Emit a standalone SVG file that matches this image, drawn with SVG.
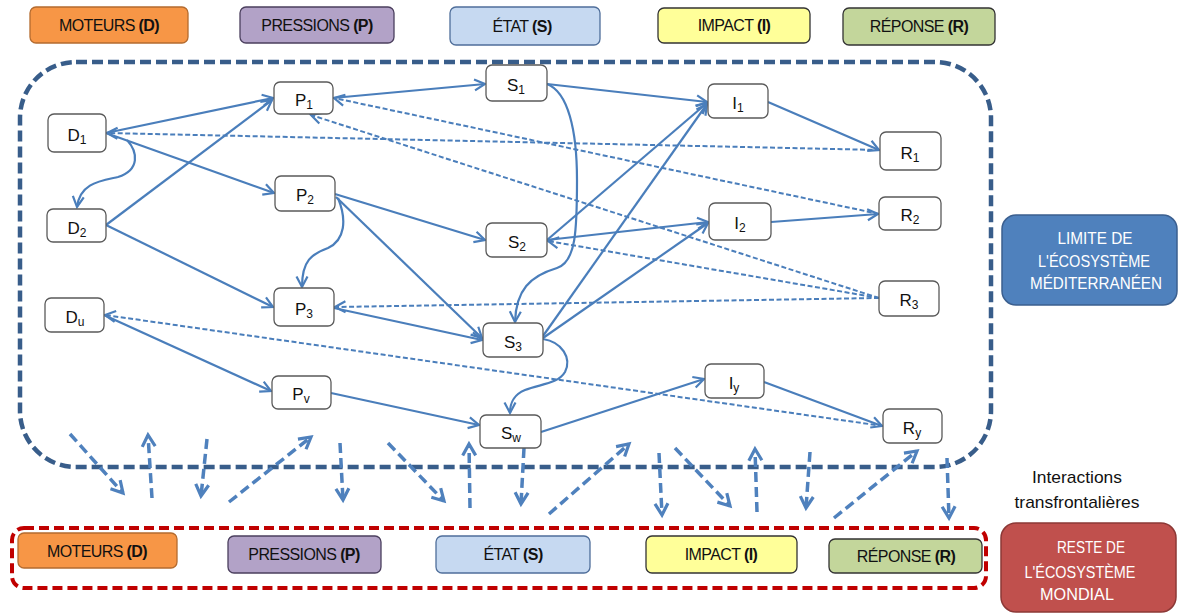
<svg xmlns="http://www.w3.org/2000/svg" width="1178" height="613" viewBox="0 0 1178 613">
<defs>
  <!-- open V arrowhead for the node-to-node links -->
  <marker id="ah" markerUnits="userSpaceOnUse" markerWidth="16" markerHeight="16" refX="12" refY="7" orient="auto" overflow="visible">
    <path d="M1.5,1.5 L12,7 L1.5,12.5" fill="none" stroke="#4A7EBB" stroke-width="2.2" stroke-linejoin="miter"/>
  </marker>
  <!-- heavier arrowhead for the cross-border flows -->
  <marker id="ahb" markerUnits="userSpaceOnUse" markerWidth="20" markerHeight="20" refX="13" refY="8" orient="auto" overflow="visible">
    <path d="M1.5,1.5 L13,8 L1.5,14.5" fill="none" stroke="#4F81BD" stroke-width="3.2" stroke-linejoin="miter"/>
  </marker>
</defs>
<style>
  text{font-family:"Liberation Sans",Arial,sans-serif;fill:#111}
  .node rect{fill:#fff;stroke:#5a5a5a;stroke-width:1.3}
  .lbl{font-size:17px;text-anchor:middle}
  .sub{font-size:12px}
  .leg{font-size:16px;text-anchor:middle;letter-spacing:-0.6px}
  .leg tspan{font-weight:bold}
  .big{font-size:17px;text-anchor:middle;fill:#fff}
  .c{fill:none;stroke:#4A7EBB;stroke-width:2.2;marker-end:url(#ah)}
  .d{stroke-dasharray:5 2.5;stroke-width:2}
  .x{fill:none;stroke:#4F81BD;stroke-width:3.5;stroke-dasharray:10 5;marker-end:url(#ahb)}
  .mo{fill:#F79646;stroke:#B46B2F;stroke-width:1.3}
  .pr{fill:#B2A2C7;stroke:#4B3F5E;stroke-width:1.3}
  .et{fill:#C6D9F1;stroke:#4F6E9A;stroke-width:1.3}
  .im{fill:#FFFF99;stroke:#333;stroke-width:1.3}
  .re{fill:#C3D69B;stroke:#333;stroke-width:1.3}
</style>

<!-- category legend, top row -->
<g id="legend-top">
  <g id="top-moteurs"><rect class="mo" x="30" y="7" width="158" height="36" rx="6"/><text class="leg" x="109" y="31">MOTEURS <tspan>(D)</tspan></text></g>
  <g id="top-pressions"><rect class="pr" x="240" y="7" width="154" height="36" rx="6"/><text class="leg" x="317" y="31">PRESSIONS <tspan>(P)</tspan></text></g>
  <g id="top-etat"><rect class="et" x="450" y="7" width="150" height="38" rx="6"/><text class="leg" x="522" y="32">ÉTAT <tspan>(S)</tspan></text></g>
  <g id="top-impact"><rect class="im" x="658" y="8" width="152" height="35" rx="6"/><text class="leg" x="734" y="31">IMPACT <tspan>(I)</tspan></text></g>
  <g id="top-reponse"><rect class="re" x="843" y="8" width="152" height="37" rx="6"/><text class="leg" x="919" y="32">RÉPONSE <tspan>(R)</tspan></text></g>
</g>

<!-- Mediterranean ecosystem boundary -->
<rect id="boundary-med" x="20" y="62" width="971" height="405" rx="56" fill="none" stroke="#385D8A" stroke-width="4.5" stroke-dasharray="11 5"/>

<!-- global ecosystem boundary -->
<rect id="boundary-world" x="12" y="528" width="974" height="60" rx="12" fill="none" stroke="#C00000" stroke-width="4" stroke-dasharray="10 5"/>

<!-- links between nodes -->
<g id="connectors">
  <path class="c" d="M106,133 L273,98"/>
  <path class="c" d="M106,133 L274,193"/>
  <path class="c" d="M106,225 L272,100"/>
  <path class="c" d="M106,225 L273,307"/>
  <path class="c" d="M127,140 C138,152 140,170 118,177 C100,181 80,183 77,207"/>
  <path class="c" d="M333,98 L485,84"/>
  <path class="c" d="M335,194 L485,240"/>
  <path class="c" d="M336,197 L482,338"/>
  <path class="c" d="M338,198 C347,220 345,240 328,248 C312,254 302,260 302,287"/>
  <path class="c" d="M334,308 L482,340"/>
  <path class="c" d="M104,315 L271,391"/>
  <path class="c" d="M331,393 L479,425"/>
  <path class="c" d="M547,84 L707,102"/>
  <path class="c" d="M547,84 C568,92 577,130 577,180 C577,230 576,262 557,268 C530,276 516,290 515,322"/>
  <path class="c" d="M547,240 L707,103"/>
  <path class="c" d="M547,240 L708,222"/>
  <path class="c" d="M543,336 L707,104"/>
  <path class="c" d="M543,338 L708,223"/>
  <path class="c" d="M543,339 C562,342 572,358 565,372 C558,384 540,384 525,390 C513,395 510,403 510,413"/>
  <path class="c" d="M541,432 L704,379"/>
  <path class="c" d="M768,102 L879,150"/>
  <path class="c" d="M771,222 L878,214"/>
  <path class="c" d="M764,382 L882,426"/>
  <!-- feedback from responses -->
  <path class="c d" d="M880,150 L107,133"/>
  <path class="c d" d="M879,214 L334,98"/>
  <path class="c d" d="M879,298 L311,115"/>
  <path class="c d" d="M879,298 L548,241"/>
  <path class="c d" d="M879,298 L335,307"/>
  <path class="c d" d="M883,426 L105,315"/>
  <!-- cross-border interactions -->
  <path class="x" d="M70,434 L123,493"/>
  <path class="x" d="M152,498 L148,435"/>
  <path class="x" d="M207,439 L201,496"/>
  <path class="x" d="M229,502 L311,437"/>
  <path class="x" d="M340,443 L343,500"/>
  <path class="x" d="M388,443 L444,501"/>
  <path class="x" d="M470,508 L469,444"/>
  <path class="x" d="M524,448 L521,504"/>
  <path class="x" d="M549,514 L629,444"/>
  <path class="x" d="M659,453 L662,515"/>
  <path class="x" d="M675,448 L730,506"/>
  <path class="x" d="M757,512 L755,449"/>
  <path class="x" d="M810,452 L806,508"/>
  <path class="x" d="M834,518 L917,451"/>
  <path class="x" d="M947,458 L949,518"/>
</g>

<!-- nodes -->
<g id="D1" class="node"><rect x="48" y="114" width="58" height="38" rx="6"/><text class="lbl" x="77" y="141">D<tspan class="sub" dy="3">1</tspan></text></g>
<g id="D2" class="node"><rect x="47" y="209" width="59" height="33" rx="6"/><text class="lbl" x="77" y="234">D<tspan class="sub" dy="3">2</tspan></text></g>
<g id="Du" class="node"><rect x="45" y="298" width="59" height="34" rx="6"/><text class="lbl" x="75" y="323">D<tspan class="sub" dy="3">u</tspan></text></g>
<g id="P1" class="node"><rect x="274" y="82" width="59" height="32" rx="6"/><text class="lbl" x="304" y="106">P<tspan class="sub" dy="3">1</tspan></text></g>
<g id="P2" class="node"><rect x="275" y="176" width="60" height="35" rx="6"/><text class="lbl" x="305" y="201">P<tspan class="sub" dy="3">2</tspan></text></g>
<g id="P3" class="node"><rect x="274" y="288" width="60" height="38" rx="6"/><text class="lbl" x="304" y="315">P<tspan class="sub" dy="3">3</tspan></text></g>
<g id="Pv" class="node"><rect x="272" y="376" width="59" height="33" rx="6"/><text class="lbl" x="301" y="400">P<tspan class="sub" dy="3">v</tspan></text></g>
<g id="S1" class="node"><rect x="486" y="65" width="61" height="36" rx="6"/><text class="lbl" x="516" y="91">S<tspan class="sub" dy="3">1</tspan></text></g>
<g id="S2" class="node"><rect x="486" y="223" width="61" height="34" rx="6"/><text class="lbl" x="517" y="248">S<tspan class="sub" dy="3">2</tspan></text></g>
<g id="S3" class="node"><rect x="483" y="323" width="60" height="34" rx="6"/><text class="lbl" x="513" y="348">S<tspan class="sub" dy="3">3</tspan></text></g>
<g id="Sw" class="node"><rect x="480" y="415" width="61" height="33" rx="6"/><text class="lbl" x="511" y="439">S<tspan class="sub" dy="3">w</tspan></text></g>
<g id="I1" class="node"><rect x="708" y="84" width="60" height="34" rx="6"/><text class="lbl" x="738" y="109">I<tspan class="sub" dy="3">1</tspan></text></g>
<g id="I2" class="node"><rect x="709" y="203" width="62" height="37" rx="6"/><text class="lbl" x="740" y="229">I<tspan class="sub" dy="3">2</tspan></text></g>
<g id="Iy" class="node"><rect x="705" y="364" width="59" height="34" rx="6"/><text class="lbl" x="734" y="389">I<tspan class="sub" dy="3">y</tspan></text></g>
<g id="R1" class="node"><rect x="880" y="132" width="61" height="38" rx="6"/><text class="lbl" x="910" y="159">R<tspan class="sub" dy="3">1</tspan></text></g>
<g id="R2" class="node"><rect x="879" y="197" width="62" height="33" rx="6"/><text class="lbl" x="910" y="221">R<tspan class="sub" dy="3">2</tspan></text></g>
<g id="R3" class="node"><rect x="879" y="281" width="60" height="35" rx="6"/><text class="lbl" x="909" y="306">R<tspan class="sub" dy="3">3</tspan></text></g>
<g id="Ry" class="node"><rect x="883" y="409" width="59" height="34" rx="6"/><text class="lbl" x="912" y="434">R<tspan class="sub" dy="3">y</tspan></text></g>

<!-- scope labels on the right -->
<g id="limite">
  <rect x="1002" y="215" width="175" height="90" rx="14" fill="#4F81BD" stroke="#3B5F8F" stroke-width="1.5"/>
  <text class="big" x="1095" y="244" textLength="75" lengthAdjust="spacingAndGlyphs">LIMITE DE</text>
  <text class="big" x="1094" y="267" textLength="112" lengthAdjust="spacingAndGlyphs">L'ÉCOSYSTÈME</text>
  <text class="big" x="1096" y="289" textLength="132" lengthAdjust="spacingAndGlyphs">MÉDITERRANÉEN</text>
</g>
<g id="interactions">
  <text x="1077" y="483" font-size="17" text-anchor="middle" textLength="90" lengthAdjust="spacingAndGlyphs">Interactions</text>
  <text x="1077" y="508" font-size="17" text-anchor="middle" textLength="125" lengthAdjust="spacingAndGlyphs">transfrontalières</text>
</g>
<g id="reste">
  <rect x="1001" y="523" width="175" height="89" rx="15" fill="#C0504D" stroke="#8C3836" stroke-width="1.5"/>
  <text class="big" x="1091" y="553" textLength="68" lengthAdjust="spacingAndGlyphs">RESTE DE</text>
  <text class="big" x="1080" y="578" textLength="111" lengthAdjust="spacingAndGlyphs">L'ÉCOSYSTÈME</text>
  <text class="big" x="1077" y="600" textLength="74" lengthAdjust="spacingAndGlyphs">MONDIAL</text>
</g>

<!-- category legend, bottom row -->
<g id="legend-bottom">
  <g id="bot-moteurs"><rect class="mo" x="18" y="533" width="159" height="35" rx="6"/><text class="leg" x="97" y="557">MOTEURS <tspan>(D)</tspan></text></g>
  <g id="bot-pressions"><rect class="pr" x="228" y="536" width="153" height="37" rx="6"/><text class="leg" x="304" y="560">PRESSIONS <tspan>(P)</tspan></text></g>
  <g id="bot-etat"><rect class="et" x="436" y="536" width="154" height="37" rx="6"/><text class="leg" x="513" y="560">ÉTAT <tspan>(S)</tspan></text></g>
  <g id="bot-impact"><rect class="im" x="646" y="536" width="151" height="37" rx="6"/><text class="leg" x="721" y="560">IMPACT <tspan>(I)</tspan></text></g>
  <g id="bot-reponse"><rect class="re" x="829" y="539" width="153" height="34" rx="6"/><text class="leg" x="906" y="562">RÉPONSE <tspan>(R)</tspan></text></g>
</g>
</svg>
